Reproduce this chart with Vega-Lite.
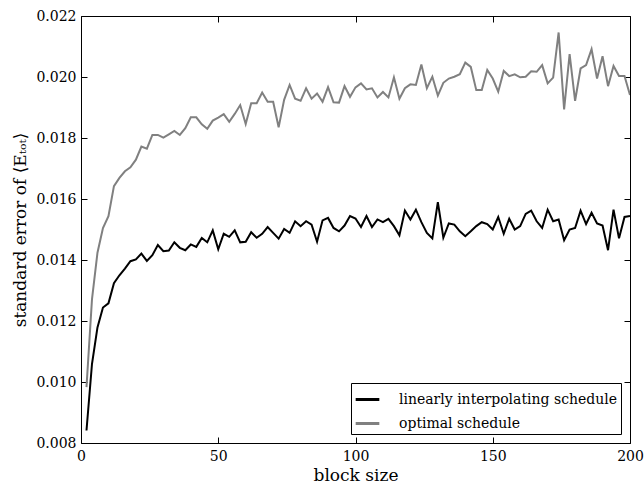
{
  "$schema": "https://vega.github.io/schema/vega-lite/v6.json",
  "width": 549,
  "height": 427,
  "autosize": {"type": "none"},
  "padding": {"left": 81, "top": 16, "right": 14, "bottom": 49},
  "background": "white",
  "config": {
    "font": "DejaVu Serif",
    "view": {"stroke": "black", "strokeWidth": 1},
    "axis": {
      "domain": false,
      "grid": false,
      "tickColor": "black",
      "tickSize": -6,
      "labelFont": "DejaVu Serif",
      "labelFontSize": 14,
      "labelColor": "black",
      "titleFont": "DejaVu Serif",
      "titleFontSize": 17,
      "titleFontWeight": "normal",
      "titleColor": "black"
    },
    "legend": {
      "labelFont": "DejaVu Serif",
      "labelFontSize": 14,
      "labelColor": "black",
      "labelLimit": 400
    }
  },
  "data": {
    "values": [
      {"block": 2, "se": 0.00841, "series": "linearly interpolating schedule"},
      {"block": 4, "se": 0.01059, "series": "linearly interpolating schedule"},
      {"block": 6, "se": 0.01179, "series": "linearly interpolating schedule"},
      {"block": 8, "se": 0.01244, "series": "linearly interpolating schedule"},
      {"block": 10, "se": 0.01258, "series": "linearly interpolating schedule"},
      {"block": 12, "se": 0.01324, "series": "linearly interpolating schedule"},
      {"block": 14, "se": 0.0135, "series": "linearly interpolating schedule"},
      {"block": 16, "se": 0.01372, "series": "linearly interpolating schedule"},
      {"block": 18, "se": 0.01396, "series": "linearly interpolating schedule"},
      {"block": 20, "se": 0.01402, "series": "linearly interpolating schedule"},
      {"block": 22, "se": 0.01421, "series": "linearly interpolating schedule"},
      {"block": 24, "se": 0.01397, "series": "linearly interpolating schedule"},
      {"block": 26, "se": 0.01416, "series": "linearly interpolating schedule"},
      {"block": 28, "se": 0.01449, "series": "linearly interpolating schedule"},
      {"block": 30, "se": 0.01429, "series": "linearly interpolating schedule"},
      {"block": 32, "se": 0.01431, "series": "linearly interpolating schedule"},
      {"block": 34, "se": 0.01458, "series": "linearly interpolating schedule"},
      {"block": 36, "se": 0.0144, "series": "linearly interpolating schedule"},
      {"block": 38, "se": 0.01432, "series": "linearly interpolating schedule"},
      {"block": 40, "se": 0.01451, "series": "linearly interpolating schedule"},
      {"block": 42, "se": 0.01443, "series": "linearly interpolating schedule"},
      {"block": 44, "se": 0.01472, "series": "linearly interpolating schedule"},
      {"block": 46, "se": 0.01458, "series": "linearly interpolating schedule"},
      {"block": 48, "se": 0.01497, "series": "linearly interpolating schedule"},
      {"block": 50, "se": 0.01435, "series": "linearly interpolating schedule"},
      {"block": 52, "se": 0.01486, "series": "linearly interpolating schedule"},
      {"block": 54, "se": 0.01476, "series": "linearly interpolating schedule"},
      {"block": 56, "se": 0.01497, "series": "linearly interpolating schedule"},
      {"block": 58, "se": 0.01458, "series": "linearly interpolating schedule"},
      {"block": 60, "se": 0.0146, "series": "linearly interpolating schedule"},
      {"block": 62, "se": 0.01491, "series": "linearly interpolating schedule"},
      {"block": 64, "se": 0.01473, "series": "linearly interpolating schedule"},
      {"block": 66, "se": 0.01486, "series": "linearly interpolating schedule"},
      {"block": 68, "se": 0.01508, "series": "linearly interpolating schedule"},
      {"block": 70, "se": 0.01489, "series": "linearly interpolating schedule"},
      {"block": 72, "se": 0.0147, "series": "linearly interpolating schedule"},
      {"block": 74, "se": 0.01502, "series": "linearly interpolating schedule"},
      {"block": 76, "se": 0.01489, "series": "linearly interpolating schedule"},
      {"block": 78, "se": 0.01527, "series": "linearly interpolating schedule"},
      {"block": 80, "se": 0.01511, "series": "linearly interpolating schedule"},
      {"block": 82, "se": 0.01527, "series": "linearly interpolating schedule"},
      {"block": 84, "se": 0.01516, "series": "linearly interpolating schedule"},
      {"block": 86, "se": 0.0146, "series": "linearly interpolating schedule"},
      {"block": 88, "se": 0.0153, "series": "linearly interpolating schedule"},
      {"block": 90, "se": 0.01538, "series": "linearly interpolating schedule"},
      {"block": 92, "se": 0.01505, "series": "linearly interpolating schedule"},
      {"block": 94, "se": 0.01494, "series": "linearly interpolating schedule"},
      {"block": 96, "se": 0.01513, "series": "linearly interpolating schedule"},
      {"block": 98, "se": 0.01544, "series": "linearly interpolating schedule"},
      {"block": 100, "se": 0.01536, "series": "linearly interpolating schedule"},
      {"block": 102, "se": 0.01508, "series": "linearly interpolating schedule"},
      {"block": 104, "se": 0.01544, "series": "linearly interpolating schedule"},
      {"block": 106, "se": 0.01508, "series": "linearly interpolating schedule"},
      {"block": 108, "se": 0.01533, "series": "linearly interpolating schedule"},
      {"block": 110, "se": 0.01524, "series": "linearly interpolating schedule"},
      {"block": 112, "se": 0.01535, "series": "linearly interpolating schedule"},
      {"block": 114, "se": 0.01511, "series": "linearly interpolating schedule"},
      {"block": 116, "se": 0.01481, "series": "linearly interpolating schedule"},
      {"block": 118, "se": 0.01562, "series": "linearly interpolating schedule"},
      {"block": 120, "se": 0.01533, "series": "linearly interpolating schedule"},
      {"block": 122, "se": 0.01565, "series": "linearly interpolating schedule"},
      {"block": 124, "se": 0.01524, "series": "linearly interpolating schedule"},
      {"block": 126, "se": 0.01489, "series": "linearly interpolating schedule"},
      {"block": 128, "se": 0.01471, "series": "linearly interpolating schedule"},
      {"block": 130, "se": 0.0159, "series": "linearly interpolating schedule"},
      {"block": 132, "se": 0.01473, "series": "linearly interpolating schedule"},
      {"block": 134, "se": 0.0152, "series": "linearly interpolating schedule"},
      {"block": 136, "se": 0.01516, "series": "linearly interpolating schedule"},
      {"block": 138, "se": 0.01494, "series": "linearly interpolating schedule"},
      {"block": 140, "se": 0.01478, "series": "linearly interpolating schedule"},
      {"block": 142, "se": 0.01494, "series": "linearly interpolating schedule"},
      {"block": 144, "se": 0.01511, "series": "linearly interpolating schedule"},
      {"block": 146, "se": 0.01524, "series": "linearly interpolating schedule"},
      {"block": 148, "se": 0.01518, "series": "linearly interpolating schedule"},
      {"block": 150, "se": 0.015, "series": "linearly interpolating schedule"},
      {"block": 152, "se": 0.01541, "series": "linearly interpolating schedule"},
      {"block": 154, "se": 0.01486, "series": "linearly interpolating schedule"},
      {"block": 156, "se": 0.01535, "series": "linearly interpolating schedule"},
      {"block": 158, "se": 0.015, "series": "linearly interpolating schedule"},
      {"block": 160, "se": 0.01511, "series": "linearly interpolating schedule"},
      {"block": 162, "se": 0.01551, "series": "linearly interpolating schedule"},
      {"block": 164, "se": 0.01562, "series": "linearly interpolating schedule"},
      {"block": 166, "se": 0.01527, "series": "linearly interpolating schedule"},
      {"block": 168, "se": 0.01505, "series": "linearly interpolating schedule"},
      {"block": 170, "se": 0.01565, "series": "linearly interpolating schedule"},
      {"block": 172, "se": 0.01527, "series": "linearly interpolating schedule"},
      {"block": 174, "se": 0.01533, "series": "linearly interpolating schedule"},
      {"block": 176, "se": 0.01465, "series": "linearly interpolating schedule"},
      {"block": 178, "se": 0.015, "series": "linearly interpolating schedule"},
      {"block": 180, "se": 0.01505, "series": "linearly interpolating schedule"},
      {"block": 182, "se": 0.01562, "series": "linearly interpolating schedule"},
      {"block": 184, "se": 0.01518, "series": "linearly interpolating schedule"},
      {"block": 186, "se": 0.01555, "series": "linearly interpolating schedule"},
      {"block": 188, "se": 0.0152, "series": "linearly interpolating schedule"},
      {"block": 190, "se": 0.01513, "series": "linearly interpolating schedule"},
      {"block": 192, "se": 0.01432, "series": "linearly interpolating schedule"},
      {"block": 194, "se": 0.01565, "series": "linearly interpolating schedule"},
      {"block": 196, "se": 0.01471, "series": "linearly interpolating schedule"},
      {"block": 198, "se": 0.01541, "series": "linearly interpolating schedule"},
      {"block": 200, "se": 0.01544, "series": "linearly interpolating schedule"},
      {"block": 2, "se": 0.00983, "series": "optimal schedule"},
      {"block": 4, "se": 0.01271, "series": "optimal schedule"},
      {"block": 6, "se": 0.01424, "series": "optimal schedule"},
      {"block": 8, "se": 0.01505, "series": "optimal schedule"},
      {"block": 10, "se": 0.01544, "series": "optimal schedule"},
      {"block": 12, "se": 0.01642, "series": "optimal schedule"},
      {"block": 14, "se": 0.01669, "series": "optimal schedule"},
      {"block": 16, "se": 0.01691, "series": "optimal schedule"},
      {"block": 18, "se": 0.01704, "series": "optimal schedule"},
      {"block": 20, "se": 0.01729, "series": "optimal schedule"},
      {"block": 22, "se": 0.01772, "series": "optimal schedule"},
      {"block": 24, "se": 0.01765, "series": "optimal schedule"},
      {"block": 26, "se": 0.0181, "series": "optimal schedule"},
      {"block": 28, "se": 0.0181, "series": "optimal schedule"},
      {"block": 30, "se": 0.01801, "series": "optimal schedule"},
      {"block": 32, "se": 0.01812, "series": "optimal schedule"},
      {"block": 34, "se": 0.01823, "series": "optimal schedule"},
      {"block": 36, "se": 0.0181, "series": "optimal schedule"},
      {"block": 38, "se": 0.01832, "series": "optimal schedule"},
      {"block": 40, "se": 0.01868, "series": "optimal schedule"},
      {"block": 42, "se": 0.01868, "series": "optimal schedule"},
      {"block": 44, "se": 0.01845, "series": "optimal schedule"},
      {"block": 46, "se": 0.0183, "series": "optimal schedule"},
      {"block": 48, "se": 0.01857, "series": "optimal schedule"},
      {"block": 50, "se": 0.01867, "series": "optimal schedule"},
      {"block": 52, "se": 0.01878, "series": "optimal schedule"},
      {"block": 54, "se": 0.01853, "series": "optimal schedule"},
      {"block": 56, "se": 0.01879, "series": "optimal schedule"},
      {"block": 58, "se": 0.01908, "series": "optimal schedule"},
      {"block": 60, "se": 0.01846, "series": "optimal schedule"},
      {"block": 62, "se": 0.01914, "series": "optimal schedule"},
      {"block": 64, "se": 0.01914, "series": "optimal schedule"},
      {"block": 66, "se": 0.01949, "series": "optimal schedule"},
      {"block": 68, "se": 0.01919, "series": "optimal schedule"},
      {"block": 70, "se": 0.01919, "series": "optimal schedule"},
      {"block": 72, "se": 0.01835, "series": "optimal schedule"},
      {"block": 74, "se": 0.01925, "series": "optimal schedule"},
      {"block": 76, "se": 0.01974, "series": "optimal schedule"},
      {"block": 78, "se": 0.01929, "series": "optimal schedule"},
      {"block": 80, "se": 0.01922, "series": "optimal schedule"},
      {"block": 82, "se": 0.01963, "series": "optimal schedule"},
      {"block": 84, "se": 0.01929, "series": "optimal schedule"},
      {"block": 86, "se": 0.01946, "series": "optimal schedule"},
      {"block": 88, "se": 0.01919, "series": "optimal schedule"},
      {"block": 90, "se": 0.01967, "series": "optimal schedule"},
      {"block": 92, "se": 0.01917, "series": "optimal schedule"},
      {"block": 94, "se": 0.01916, "series": "optimal schedule"},
      {"block": 96, "se": 0.0197, "series": "optimal schedule"},
      {"block": 98, "se": 0.01935, "series": "optimal schedule"},
      {"block": 100, "se": 0.01966, "series": "optimal schedule"},
      {"block": 102, "se": 0.01979, "series": "optimal schedule"},
      {"block": 104, "se": 0.01959, "series": "optimal schedule"},
      {"block": 106, "se": 0.01963, "series": "optimal schedule"},
      {"block": 108, "se": 0.01933, "series": "optimal schedule"},
      {"block": 110, "se": 0.01951, "series": "optimal schedule"},
      {"block": 112, "se": 0.01933, "series": "optimal schedule"},
      {"block": 114, "se": 0.01999, "series": "optimal schedule"},
      {"block": 116, "se": 0.01929, "series": "optimal schedule"},
      {"block": 118, "se": 0.01963, "series": "optimal schedule"},
      {"block": 120, "se": 0.01976, "series": "optimal schedule"},
      {"block": 122, "se": 0.01974, "series": "optimal schedule"},
      {"block": 124, "se": 0.02041, "series": "optimal schedule"},
      {"block": 126, "se": 0.01963, "series": "optimal schedule"},
      {"block": 128, "se": 0.02001, "series": "optimal schedule"},
      {"block": 130, "se": 0.01939, "series": "optimal schedule"},
      {"block": 132, "se": 0.01981, "series": "optimal schedule"},
      {"block": 134, "se": 0.01995, "series": "optimal schedule"},
      {"block": 136, "se": 0.02001, "series": "optimal schedule"},
      {"block": 138, "se": 0.02009, "series": "optimal schedule"},
      {"block": 140, "se": 0.02047, "series": "optimal schedule"},
      {"block": 142, "se": 0.02033, "series": "optimal schedule"},
      {"block": 144, "se": 0.01957, "series": "optimal schedule"},
      {"block": 146, "se": 0.01957, "series": "optimal schedule"},
      {"block": 148, "se": 0.02023, "series": "optimal schedule"},
      {"block": 150, "se": 0.01995, "series": "optimal schedule"},
      {"block": 152, "se": 0.01952, "series": "optimal schedule"},
      {"block": 154, "se": 0.0202, "series": "optimal schedule"},
      {"block": 156, "se": 0.02003, "series": "optimal schedule"},
      {"block": 158, "se": 0.02009, "series": "optimal schedule"},
      {"block": 160, "se": 0.01999, "series": "optimal schedule"},
      {"block": 162, "se": 0.02001, "series": "optimal schedule"},
      {"block": 164, "se": 0.02019, "series": "optimal schedule"},
      {"block": 166, "se": 0.02017, "series": "optimal schedule"},
      {"block": 168, "se": 0.02039, "series": "optimal schedule"},
      {"block": 170, "se": 0.01979, "series": "optimal schedule"},
      {"block": 172, "se": 0.01998, "series": "optimal schedule"},
      {"block": 174, "se": 0.02146, "series": "optimal schedule"},
      {"block": 176, "se": 0.01894, "series": "optimal schedule"},
      {"block": 178, "se": 0.02075, "series": "optimal schedule"},
      {"block": 180, "se": 0.01922, "series": "optimal schedule"},
      {"block": 182, "se": 0.02028, "series": "optimal schedule"},
      {"block": 184, "se": 0.02039, "series": "optimal schedule"},
      {"block": 186, "se": 0.02091, "series": "optimal schedule"},
      {"block": 188, "se": 0.01995, "series": "optimal schedule"},
      {"block": 190, "se": 0.02068, "series": "optimal schedule"},
      {"block": 192, "se": 0.0197, "series": "optimal schedule"},
      {"block": 194, "se": 0.02036, "series": "optimal schedule"},
      {"block": 196, "se": 0.02003, "series": "optimal schedule"},
      {"block": 198, "se": 0.02003, "series": "optimal schedule"},
      {"block": 200, "se": 0.01941, "series": "optimal schedule"}
    ]
  },
  "layer": [
    {
      "mark": {"type": "line", "strokeWidth": 2, "clip": true},
      "encoding": {
        "x": {
          "field": "block", "type": "quantitative",
          "scale": {"domain": [0, 200], "nice": false, "zero": false},
          "axis": {"title": "block size", "values": [0, 50, 100, 150, 200], "labelPadding": 12, "titlePadding": 4, "labelFlush": false}
        },
        "y": {
          "field": "se", "type": "quantitative",
          "scale": {"domain": [0.008, 0.022], "nice": false, "zero": false},
          "axis": {"title": "standard error of ⟨Eₜₒₜ⟩", "values": [0.008, 0.01, 0.012, 0.014, 0.016, 0.018, 0.02, 0.022], "format": ".3f", "labelPadding": 11, "titlePadding": 6, "labelFlush": false}
        },
        "color": {
          "field": "series", "type": "nominal",
          "scale": {"domain": ["linearly interpolating schedule", "optimal schedule"], "range": ["#000000", "#808080"]},
          "legend": {
            "title": null,
            "orient": "bottom-right",
            "offset": 9,
            "symbolType": "stroke",
            "symbolStrokeWidth": 3,
            "symbolSize": 560,
            "strokeColor": "black",
            "fillColor": "white",
            "padding": 3,
            "rowPadding": 3,
            "labelOffset": 18,
            "cornerRadius": 0
          }
        }
      }
    },
    {
      "mark": {"type": "line", "opacity": 0},
      "encoding": {
        "x": {
          "field": "block", "type": "quantitative",
          "axis": {"orient": "top", "title": null, "labels": false, "values": [0, 50, 100, 150, 200]}
        },
        "y": {
          "field": "se", "type": "quantitative",
          "axis": {"orient": "right", "title": null, "labels": false, "values": [0.008, 0.01, 0.012, 0.014, 0.016, 0.018, 0.02, 0.022]}
        },
        "detail": {"field": "series"}
      }
    }
  ],
  "resolve": {"axis": {"x": "independent", "y": "independent"}}
}
